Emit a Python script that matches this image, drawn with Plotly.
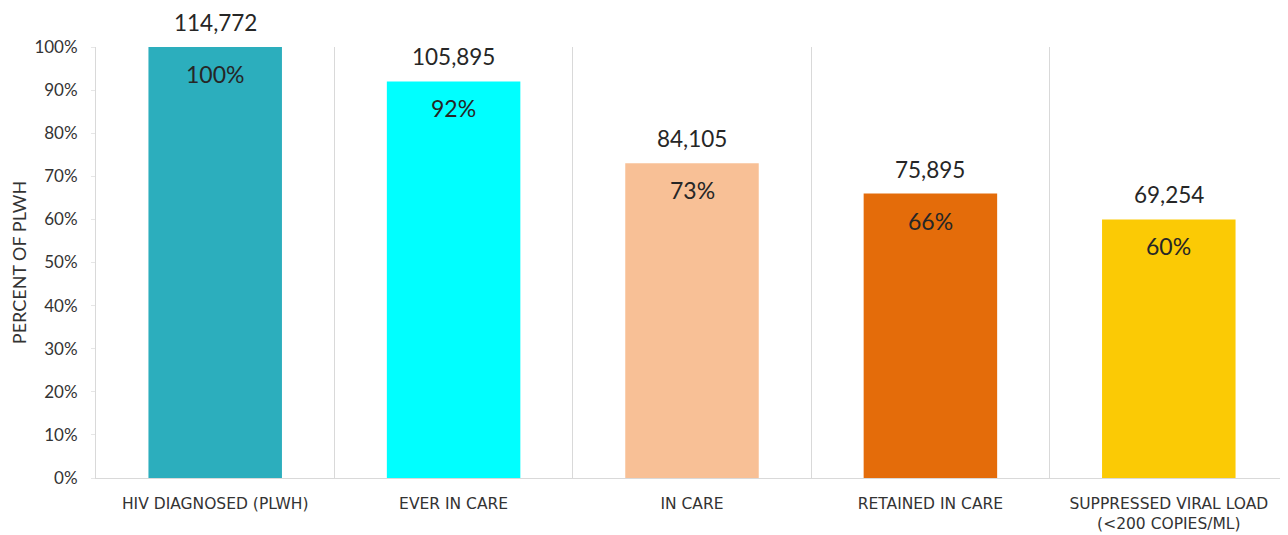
import plotly.graph_objects as go

categories = ["HIV DIAGNOSED (PLWH)", "EVER IN CARE", "IN CARE", "RETAINED IN CARE",
              "SUPPRESSED VIRAL LOAD<br>(<200 COPIES/ML)"]
counts = [114772, 105895, 84105, 75895, 69254]
percents = [1.00, 0.92, 0.73, 0.66, 0.60]
colors = ["#2CAEBD", "#00FFFF", "#F8C096", "#E46C0A", "#FBCA05"]
y_ticks = [i / 10 for i in range(11)]
y_tick_labels = [f"{i * 10}%" for i in range(11)]

fig = go.Figure()
fig.add_trace(go.Bar(
    x=categories, y=percents, marker=dict(color=colors, line=dict(width=0)),
    hoverinfo="skip",
))

for c, n, p in zip(categories, counts, percents):
    fig.add_annotation(x=c, y=p, text=f"{n:,}", showarrow=False, yanchor="bottom",
                       yshift=9, font=dict(family="Lato", size=22.5, color="#262626"))
    fig.add_annotation(x=c, y=p, text=f"{round(p * 100)}%", showarrow=False, yanchor="top",
                       yshift=-11, font=dict(family="Lato", size=23, color="#262626"))

fig.update_layout(
    width=1280, height=527,
    margin=dict(l=88, r=0, t=39, b=57),
    paper_bgcolor="white", plot_bgcolor="white",
    bargap=0.44, showlegend=False,
    xaxis=dict(
        type="category", tickson="boundaries", range=[-0.5, 4.5],
        showgrid=True, gridcolor="#D9D9D9", gridwidth=1,
        showline=True, linecolor="#D9D9D9", linewidth=1,
        ticks="", ticklabelstandoff=11,
        tickfont=dict(family="DejaVu Sans", size=15.5, color="#333333"),
    ),
    yaxis=dict(
        range=[0, 1.0], tickvals=y_ticks, ticktext=y_tick_labels,
        showgrid=False, zeroline=False,
        showline=True, linecolor="#D9D9D9", linewidth=1,
        ticks="outside", ticklen=4, tickcolor="#E6E6E6",
        ticklabelstandoff=10,
        tickfont=dict(family="Lato", size=17, color="#333333"),
        title=dict(text="PERCENT OF PLWH", standoff=6,
                   font=dict(family="Lato", size=18, color="#333333")),
    ),
)

fig.write_html("out.html")
